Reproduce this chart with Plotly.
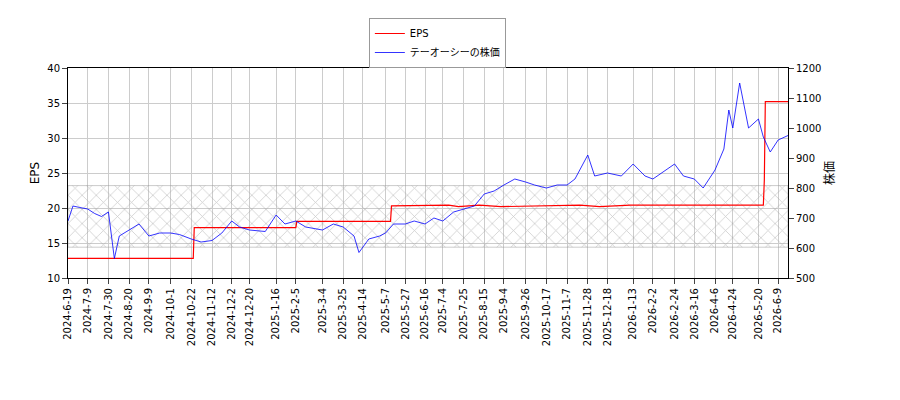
import plotly.graph_objects as go

eps_dates = ["2024-06-19","2024-10-24","2024-10-25","2025-02-05","2025-02-06","2025-05-12","2025-05-13","2025-07-10","2025-07-20","2025-08-10","2025-09-01","2025-10-20","2025-11-20","2025-12-10","2026-01-10","2026-05-25","2026-05-26","2026-05-27","2026-06-19"]
eps_vals  = [12.8,12.8,17.2,17.2,18.1,18.1,20.3,20.4,20.2,20.4,20.2,20.3,20.4,20.2,20.4,20.4,24.0,35.2,35.2]

price_dates = ["2024-06-19","2024-06-24","2024-07-01","2024-07-09","2024-07-16","2024-07-23","2024-07-30","2024-08-05","2024-08-10","2024-08-20","2024-08-30","2024-09-09","2024-09-20","2024-10-01","2024-10-10","2024-10-22","2024-11-01","2024-11-12","2024-11-22","2024-12-02","2024-12-10","2024-12-20","2025-01-05","2025-01-16","2025-01-25","2025-02-05","2025-02-15","2025-03-04","2025-03-15","2025-03-25","2025-04-05","2025-04-10","2025-04-20","2025-05-01","2025-05-07","2025-05-15","2025-05-27","2025-06-05","2025-06-16","2025-06-25","2025-07-04","2025-07-15","2025-07-25","2025-08-05","2025-08-15","2025-08-25","2025-09-04","2025-09-15","2025-09-26","2025-10-05","2025-10-17","2025-10-28","2025-11-07","2025-11-15","2025-11-28","2025-12-05","2025-12-18","2026-01-01","2026-01-13","2026-01-25","2026-02-02","2026-02-15","2026-02-24","2026-03-05","2026-03-16","2026-03-25","2026-04-06","2026-04-15","2026-04-20","2026-04-24","2026-05-01","2026-05-10","2026-05-20","2026-05-25","2026-06-01","2026-06-09","2026-06-19"]
price_vals = [690,740,735,730,715,705,720,565,640,660,680,640,650,650,645,630,620,625,650,690,670,660,655,710,680,690,670,660,680,670,640,585,630,640,650,680,680,690,680,700,690,720,730,740,780,790,810,830,820,810,800,810,810,830,910,840,850,840,880,840,830,860,880,840,830,800,860,930,1060,1000,1150,1000,1030,970,920,960,975]

band = [14.4, 23.2]

tickdates = ["2024-06-19","2024-07-09","2024-07-30","2024-08-20","2024-09-09","2024-10-01","2024-10-22","2024-11-12","2024-12-02","2024-12-20","2025-01-16","2025-02-05","2025-03-04","2025-03-25","2025-04-14","2025-05-07","2025-05-27","2025-06-16","2025-07-04","2025-07-25","2025-08-15","2025-09-04","2025-09-26","2025-10-17","2025-11-07","2025-11-28","2025-12-18","2026-01-13","2026-02-02","2026-02-24","2026-03-16","2026-04-06","2026-04-24","2026-05-20","2026-06-09"]
ticklabels = [f"{int(d[:4])}-{int(d[5:7])}-{int(d[8:])}" for d in tickdates]

fig = go.Figure()
x0, x1 = "2024-06-19", "2026-06-19"
fig.add_trace(go.Scatter(x=[x0, x1, x1, x0, x0], y=[band[0], band[0], band[1], band[1], band[0]],
    fill="toself", mode="lines", line=dict(width=0.5, color="#999999"), fillcolor="rgba(0,0,0,0)",
    fillpattern=dict(shape="x", fgcolor="#999999", bgcolor="rgba(0,0,0,0)", size=10, solidity=0.15),
    showlegend=False, hoverinfo="skip"))
fig.add_trace(go.Scatter(x=eps_dates, y=eps_vals, mode="lines", line=dict(color="red", width=1.2), name="EPS"))
fig.add_trace(go.Scatter(x=price_dates, y=price_vals, mode="lines", line=dict(color="blue", width=0.8),
    name="テーオーシーの株価", yaxis="y2"))

ax = dict(showline=True, linecolor="black", mirror=True, ticks="outside", gridcolor="#cccccc", zeroline=False)
fig.update_layout(
    width=900, height=400, plot_bgcolor="white", paper_bgcolor="white",
    margin=dict(l=60, r=120, t=60, b=130, autoexpand=False),
    font=dict(family="DejaVu Sans, Noto Sans CJK JP", size=10, color="black"),
    xaxis=dict(**ax, range=[x0, x1], tickvals=tickdates, ticktext=ticklabels, tickangle=-90),
    yaxis=dict(**ax, range=[10, 40], dtick=5, title=dict(text="EPS", standoff=5)),
    yaxis2=dict(range=[500, 1200], dtick=100, overlaying="y", side="right", showgrid=False,
                ticks="outside", title=dict(text="株価", standoff=5)),
    legend=dict(x=0.513, y=0.975, xref="paper", yref="container", xanchor="center", yanchor="top",
                bordercolor="#999", borderwidth=1, bgcolor="white", tracegroupgap=0),
)
fig.write_html("out.html")
